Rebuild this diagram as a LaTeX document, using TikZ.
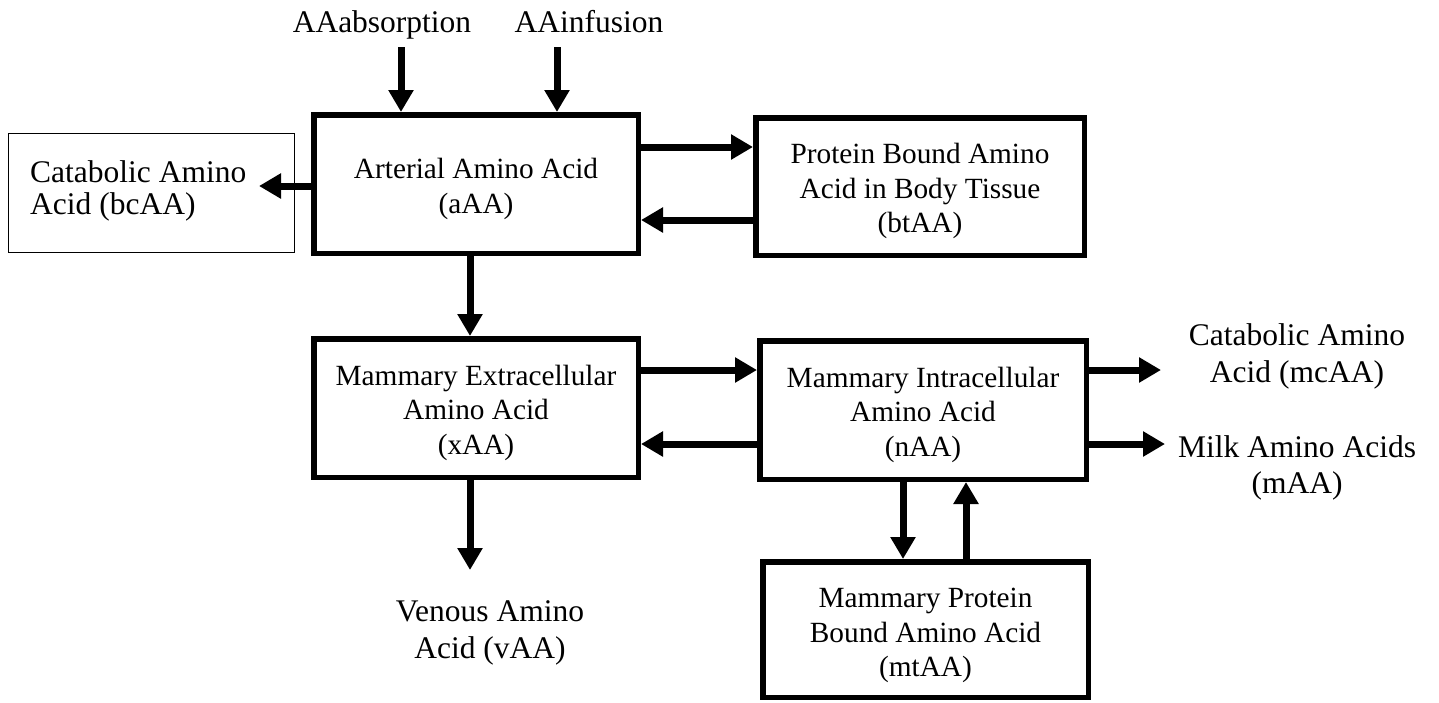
\documentclass[tikz,border=0pt]{standalone}
\usepackage{fontspec}
\setmainfont{Liberation Serif}
\usetikzlibrary{arrows.meta}
\newcommand{\boxtopstrut}{\rule{0pt}{30pt}}
\begin{document}
\begin{tikzpicture}[x=1pt,y=-1pt,
  boxfont/.style={font=\fontsize{29.3}{34.5}\selectfont},
  labfont/.style={font=\fontsize{31.5}{37}\selectfont},
  bigbox/.style={draw, line width=5.5pt, rectangle, boxfont, align=center, inner sep=0pt},
  thinbox/.style={draw, line width=1.2pt, rectangle, inner sep=0pt},
  lab/.style={labfont, align=center, inner sep=0pt},
  arr/.style={line width=7pt, -{Triangle[width=24pt,length=22pt]}},
]
\useasboundingbox (0,0) rectangle (1439,702);

% boxes
\node[thinbox, minimum width=285.8pt, minimum height=118.8pt] (bcAA) at (151.5,193) {};
\node[lab, anchor=west, align=left, font=\fontsize{31.5}{31.5}\selectfont] (bctext) at (30,191) {Catabolic Amino\\Acid (bcAA)};
\node[bigbox, minimum width=324.5pt, minimum height=138.5pt] (aAA) at (476,184) {\boxtopstrut Arterial Amino Acid\\(aAA)};
\node[bigbox, minimum width=328.5pt, minimum height=137.5pt] (btAA) at (920,186.5) {\boxtopstrut Protein Bound Amino\\Acid in Body Tissue\\(btAA)};
\node[bigbox, minimum width=324.5pt, minimum height=138.5pt] (xAA) at (476,408) {\boxtopstrut Mammary Extracellular\\Amino Acid\\(xAA)};
\node[bigbox, minimum width=326.5pt, minimum height=138.5pt] (nAA) at (923,410) {\boxtopstrut Mammary Intracellular\\Amino Acid\\(nAA)};
\node[bigbox, minimum width=325.5pt, minimum height=135.5pt] (mtAA) at (925.5,629.5) {\rule{0pt}{32pt}Mammary Protein\\Bound Amino Acid\\(mtAA)};

% free labels
\node[lab, anchor=base] (absn) at (382,32) {AAabsorption};
\node[lab, anchor=base] (infu) at (589,32) {AAinfusion};
\node[lab] (vAA) at (490,632.5) {Venous Amino\\Acid (vAA)};
\node[lab] (mcAA) at (1297,356.5) {Catabolic Amino\\Acid (mcAA)};
\node[lab, font=\fontsize{31.5}{35.5}\selectfont] (mAA) at (1297,468) {Milk Amino Acids\\(mAA)};

% helper coordinates
\coordinate (in1) at (401,47);
\coordinate (in2) at (557,47);
\coordinate (bctip) at (259,186);
\coordinate (yA) at (0,147);
\coordinate (yB) at (0,220);
\coordinate (xv) at (470,0);
\coordinate (vtip) at (470,570);
\coordinate (yC) at (0,370);
\coordinate (yD) at (0,444);
\coordinate (mctip) at (1161,370);
\coordinate (mtip) at (1165,444);
\coordinate (xd) at (903,0);
\coordinate (xu) at (966,0);

% connectors
\draw[arr] (in1) -- (in1 |- aAA.north);
\draw[arr] (in2) -- (in2 |- aAA.north);
\draw[arr] (bctip -| aAA.west) -- (bctip);
\draw[arr] (aAA.east |- yA) -- (btAA.west |- yA);
\draw[arr] (btAA.west |- yB) -- (aAA.east |- yB);
\draw[arr] (aAA.south -| xv) -- (xAA.north -| xv);
\draw[arr] (xAA.south -| vtip) -- (vtip);
\draw[arr] (xAA.east |- yC) -- (nAA.west |- yC);
\draw[arr] (nAA.west |- yD) -- (xAA.east |- yD);
\draw[arr] (nAA.east |- mctip) -- (mctip);
\draw[arr] (nAA.east |- mtip) -- (mtip);
\draw[arr] (nAA.south -| xd) -- (mtAA.north -| xd);
\draw[arr] (mtAA.north -| xu) -- (nAA.south -| xu);
\end{tikzpicture}
\end{document}
